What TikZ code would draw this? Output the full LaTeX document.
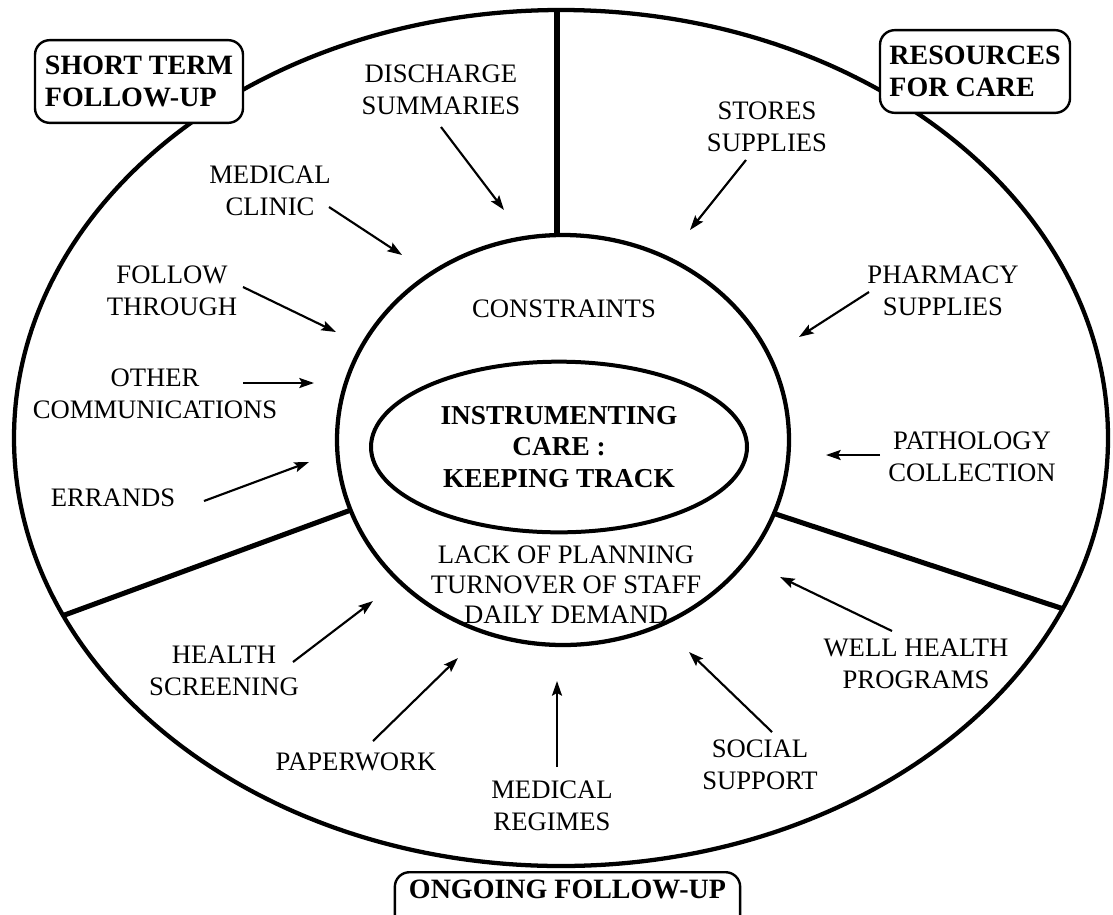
\documentclass[tikz,border=0pt]{standalone}
\usepackage{fontspec}
\setmainfont{Liberation Serif}
\usetikzlibrary{arrows.meta,calc,shapes.geometric}
\begin{document}
\begin{tikzpicture}[x=0.75pt,y=-0.75pt,
  ring/.style={line width=3.2pt},
  spoke/.style={line width=3.8pt},
  lab/.style={font=\fontsize{20}{24}\selectfont, align=center, inner sep=0pt},
  feed/.style={line width=1.6pt, -{Stealth[length=11pt,width=7.5pt,inset=2pt]}},
  tagbox/.style={draw, line width=1.8pt, rounded corners=11pt, fill=white,
    font=\bfseries\fontsize{21}{24}\selectfont, align=left, inner sep=4pt},
]
\clip (0,0) rectangle (1113,914);
\fill[white] (0,0) rectangle (1113,914);

% outer ring and inner ring
\coordinate (oc) at (561,438);
\coordinate (ic) at (563,440);
\draw[ring] (oc) ellipse [x radius=547, y radius=428];
\draw[ring] (ic) ellipse [x radius=226, y radius=205];

% spokes dividing the outer band into three sectors
\coordinate (top-o) at (557,10);
\coordinate (top-i) at (557,235);
\coordinate (left-o) at ($(oc)+(155.5:547 and 428)$);
\coordinate (left-i) at ($(ic)+(160:226 and 205)$);
\coordinate (right-i) at ($(ic)+(21:226 and 205)$);
\coordinate (right-o) at ($(oc)+(23.5:547 and 428)$);
\draw[spoke] (top-o) -- (top-i);
\draw[spoke] (left-o) -- (left-i);
\draw[spoke] (right-i) -- (right-o);

% central ellipse
\node[draw, ellipse, line width=3pt, minimum width=282pt, minimum height=128pt,
  font=\bfseries\fontsize{20.5}{23.6}\selectfont, align=center, inner sep=0pt]
  (hub) at (559,447) {INSTRUMENTING\\CARE :\\KEEPING TRACK};

% constraints
\node[lab] (constraints) at (564,309) {CONSTRAINTS};
\node[lab, font=\fontsize{20}{22.5}\selectfont] (lacks) at (566,585)
  {LACK OF PLANNING\\TURNOVER OF STAFF\\DAILY DEMAND};

% short term follow-up sector
\node[lab] (discharge) at (441,90) {DISCHARGE\\SUMMARIES};
\node[lab] (clinic) at (270,191) {MEDICAL\\CLINIC};
\node[lab] (follow) at (172,291) {FOLLOW\\THROUGH};
\node[lab] (comms) at (155,394) {OTHER\\COMMUNICATIONS};
\node[lab] (errands) at (113,498) {ERRANDS};

% resources for care sector
\node[lab] (stores) at (767,127) {STORES\\SUPPLIES};
\node[lab] (pharmacy) at (943,291) {PHARMACY\\SUPPLIES};
\node[lab] (pathology) at (972,457) {PATHOLOGY\\COLLECTION};

% ongoing follow-up sector
\node[lab] (wellhealth) at (916,664) {WELL HEALTH\\PROGRAMS};
\node[lab] (social) at (760,765) {SOCIAL\\SUPPORT};
\node[lab] (regimes) at (552,806) {MEDICAL\\REGIMES};
\node[lab] (paperwork) at (356,762) {PAPERWORK};
\node[lab] (screening) at (224,671) {HEALTH\\SCREENING};

% arrow ends
\coordinate (discharge-s) at (441,127);  \coordinate (discharge-e) at (504,210);
\coordinate (clinic-s) at (329,207);     \coordinate (clinic-e) at (402,255);
\coordinate (follow-s) at (243,287);     \coordinate (follow-e) at (336,332);
\coordinate (comms-s) at (243,383);      \coordinate (comms-e) at (314,383);
\coordinate (errands-s) at (204,501);    \coordinate (errands-e) at (309,462);
\coordinate (stores-s) at (746,160);     \coordinate (stores-e) at (690,230);
\coordinate (pharmacy-s) at (869,292);   \coordinate (pharmacy-e) at (799,337);
\coordinate (pathology-s) at (880,455);  \coordinate (pathology-e) at (826,455);
\coordinate (wellhealth-s) at (892,631); \coordinate (wellhealth-e) at (780,577);
\coordinate (social-s) at (772,732);     \coordinate (social-e) at (689,652);
\coordinate (regimes-s) at (557,767);    \coordinate (regimes-e) at (557,681);
\coordinate (paperwork-s) at (373,741);  \coordinate (paperwork-e) at (458,658);
\coordinate (screening-s) at (293,662);  \coordinate (screening-e) at (373,601);

\foreach \n in {discharge,clinic,follow,comms,errands,stores,pharmacy,pathology,
                wellhealth,social,regimes,paperwork,screening}
  \draw[feed] (\n-s) -- (\n-e);

% sector titles
\node[tagbox, minimum width=156pt, minimum height=62pt] (shortterm) at (139,81.5)
  {SHORT TERM\\FOLLOW-UP};
\node[tagbox, minimum width=142.5pt, minimum height=62pt] (resources) at (975,71.5)
  {RESOURCES\\FOR CARE};
\node[tagbox, anchor=north, minimum width=259pt, text height=15pt, text depth=35pt,
  inner ysep=5pt, align=center] (ongoing) at (567.5,871) {ONGOING FOLLOW-UP};
\end{tikzpicture}
\end{document}
